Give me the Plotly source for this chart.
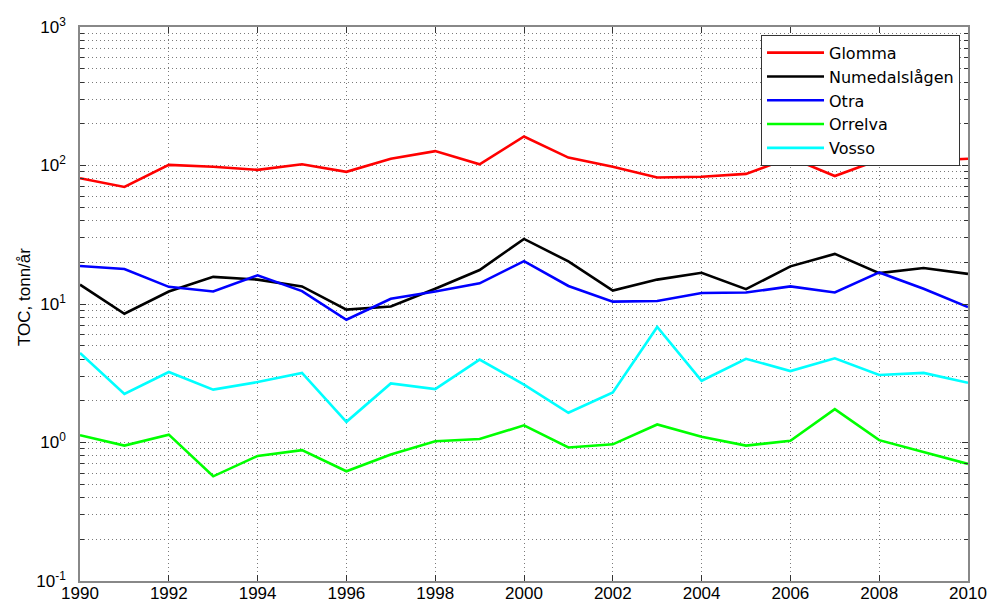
import plotly.graph_objects as go

years = list(range(1990, 2011))

glomma = [81, 70, 101, 98, 93, 102, 90, 112, 127, 102, 162, 114, 98, 82, 83, 87, 114, 84, 110, 108, 112]
numedalslagen = [13.8, 8.5, 12.3, 15.7, 15.0, 13.4, 9.1, 9.6, 12.9, 17.6, 29.5, 20.3, 12.5, 15.0, 16.8, 12.8, 18.7, 23.0, 16.7, 18.2, 16.5]
otra = [18.8, 17.9, 13.3, 12.3, 16.1, 12.4, 7.7, 10.9, 12.3, 14.1, 20.4, 13.5, 10.4, 10.5, 12.0, 12.1, 13.4, 12.1, 16.9, 12.9, 9.5]
orrelva = [1.13, 0.95, 1.14, 0.57, 0.80, 0.88, 0.62, 0.82, 1.02, 1.06, 1.33, 0.92, 0.97, 1.35, 1.10, 0.95, 1.03, 1.74, 1.04, 0.85, 0.70]
vosso = [4.43, 2.24, 3.23, 2.41, 2.73, 3.18, 1.41, 2.67, 2.43, 3.97, 2.62, 1.64, 2.30, 6.82, 2.79, 4.02, 3.28, 4.05, 3.07, 3.18, 2.70]

series_names = ["Glomma", "Numedalslågen", "Otra", "Orrelva", "Vosso"]
series_values = [glomma, numedalslagen, otra, orrelva, vosso]
series_colors = ["#ff0000", "#000000", "#0000ff", "#00ff00", "#00ffff"]

y_major = [0.1, 1, 10, 100, 1000]
y_major_text = ["10<sup>-1</sup>", "10<sup>0</sup>", "10<sup>1</sup>", "10<sup>2</sup>", "10<sup>3</sup>"]
y_minor = [m * d for d in [0.1, 1, 10, 100] for m in range(2, 10)]
x_ticks = list(range(1990, 2011, 2))

FONT = "Liberation Sans, Arial, sans-serif"

fig = go.Figure()
for name, vals, col in zip(series_names, series_values, series_colors):
    fig.add_trace(go.Scatter(x=years, y=vals, mode="lines", name=name,
                             line=dict(color=col, width=2.6)))

grid_col = "#7a7a7a"
fig.update_layout(
    width=990, height=602,
    margin=dict(l=80, r=22, t=27, b=21, autoexpand=False),
    paper_bgcolor="white", plot_bgcolor="white",
    font=dict(family=FONT, size=17, color="black"),
    showlegend=True,
    legend=dict(x=0.991, y=0.986, xanchor="right", yanchor="top",
                bgcolor="white", bordercolor="#333333", borderwidth=1,
                font=dict(family="DejaVu Sans, sans-serif", size=16, color="black"),
                itemwidth=57, tracegroupgap=0),
    xaxis=dict(range=[1990, 2010], tickvals=x_ticks, ticks="inside", ticklen=6,
               tickcolor="#333", showline=True, linecolor="#888", linewidth=1.5, mirror="allticks",
               showgrid=True, gridcolor=grid_col, griddash="1px,3px", gridwidth=1,
               zeroline=False, tickfont=dict(size=17), automargin=False,
               ticklabelstandoff=-4),
    yaxis=dict(type="log", range=[-1, 3], tickvals=y_major, ticktext=y_major_text,
               ticks="inside", ticklen=6, tickcolor="#333", ticklabelstandoff=9,
               showline=True, linecolor="#888", linewidth=1.5, mirror="allticks",
               showgrid=True, gridcolor=grid_col, griddash="1px,3px", gridwidth=1,
               zeroline=False, tickfont=dict(size=17), automargin=False,
               minor=dict(tickvals=y_minor, ticks="inside", ticklen=4, tickcolor="#333",
                          showgrid=True, gridcolor=grid_col, griddash="1px,3px", gridwidth=1)),
)

fig.add_annotation(text="TOC, tonn/år", xref="paper", yref="paper",
                   x=(24 - 80) / 888, y=(581 - 297) / 554, xanchor="center", yanchor="middle",
                   textangle=-90, showarrow=False,
                   font=dict(family=FONT, size=17, color="black"))

fig.write_html("out.html", config={"displayModeBar": False},
               post_script="document.body.style.margin='0';document.body.style.overflow='hidden';")
